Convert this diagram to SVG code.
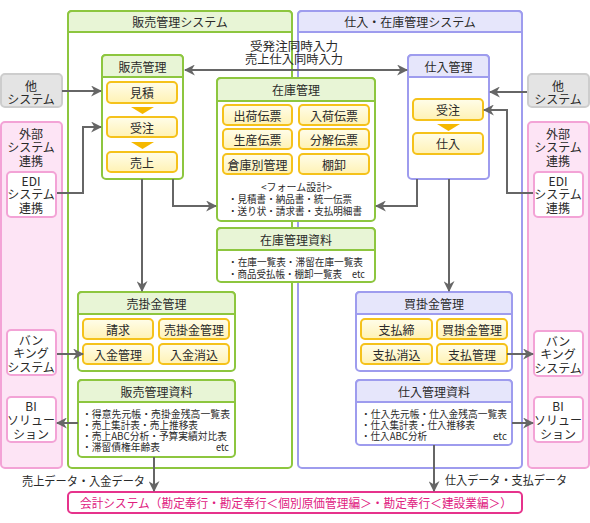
<svg xmlns="http://www.w3.org/2000/svg" width="590" height="523" viewBox="0 0 590 523">
<defs>
<linearGradient id="yg" x1="0" y1="0" x2="0" y2="1"><stop offset="0" stop-color="#fffdea"/><stop offset="1" stop-color="#fff2b4"/></linearGradient>
<marker id="ah" viewBox="0 0 10 10" refX="9" refY="5" markerWidth="11" markerHeight="11" markerUnits="userSpaceOnUse" orient="auto-start-reverse"><path d="M0,0 L10,5 L0,10 L3,5 Z" fill="#666"/></marker>
<style>
text{font-family:"Noto Sans CJK JP","Noto Sans CJK SC",sans-serif;fill:#2a2a2a;font-size:12px;dominant-baseline:central}
.c{text-anchor:middle}
.s{font-size:10px}
.s2{font-size:10px}
.gf{fill:#fff;stroke:#8dc63f;stroke-width:2}
.gh{fill:#e8f5d6;stroke:#8dc63f;stroke-width:2}
.bf{fill:#fff;stroke:#9e9cee;stroke-width:2}
.bh{fill:#e6e6fb;stroke:#9e9cee;stroke-width:2}
.it{fill:url(#yg);stroke:#f5c21b;stroke-width:2}
.tri{fill:#f5b800}
.pk{fill:#fde4f5;stroke:#f3a3d6;stroke-width:2}
.pw{fill:#fff;stroke:#f3a3d6;stroke-width:2}
.gy{fill:#e4e4e4;stroke:#cdcdcd;stroke-width:2}
.cn{fill:none;stroke:#666;stroke-width:2;marker-end:url(#ah)}
</style>
</defs>
<rect width="590" height="523" fill="#fff"/>

<g id="sales-system">
<rect class="gf" x="68" y="11" width="224" height="457" rx="4"/>
<path class="gh" d="M68,32 V15 Q68,11 72,11 H288 Q292,11 292,15 V32 Z"/>
<text class="c" x="180" y="21">販売管理システム</text>
</g>
<g id="purchase-system">
<rect class="bf" x="298" y="11" width="224" height="457" rx="4"/>
<path class="bh" d="M298,32 V15 Q298,11 302,11 H518 Q522,11 522,15 V32 Z"/>
<text class="c" x="410" y="21">仕入・在庫管理システム</text>
</g>

<g id="other-left">
<rect class="gy" x="1" y="74" width="61" height="33" rx="4"/>
<text class="c"><tspan x="31" y="85">他</tspan><tspan x="31" y="98">システム</tspan></text>
</g>
<g id="other-right">
<rect class="gy" x="528" y="74" width="61" height="33" rx="4"/>
<text class="c"><tspan x="558" y="85">他</tspan><tspan x="558" y="98">システム</tspan></text>
</g>

<g id="ext-left">
<rect class="pk" x="1" y="122" width="61" height="346" rx="4"/>
<text class="c"><tspan x="31" y="133">外部</tspan><tspan x="31" y="146">システム</tspan><tspan x="31" y="160">連携</tspan></text>
</g>
<g id="edi-left">
<rect class="pw" x="7" y="172" width="49" height="45" rx="4"/>
<text class="c"><tspan x="31" y="180">EDI</tspan><tspan x="31" y="193">システム</tspan><tspan x="31" y="207">連携</tspan></text>
</g>
<g id="bank-left">
<rect class="pw" x="7" y="330" width="49" height="45" rx="4"/>
<text class="c"><tspan x="31" y="339">バン</tspan><tspan x="31" y="352">キング</tspan><tspan x="31" y="366">システム</tspan></text>
</g>
<g id="bi-left">
<rect class="pw" x="7" y="397" width="49" height="45" rx="4"/>
<text class="c"><tspan x="31" y="405">BI</tspan><tspan x="31" y="419">ソリュー</tspan><tspan x="31" y="433">ション</tspan></text>
</g>

<g id="ext-right">
<rect class="pk" x="528" y="122" width="61" height="346" rx="4"/>
<text class="c"><tspan x="558" y="133">外部</tspan><tspan x="558" y="146">システム</tspan><tspan x="558" y="160">連携</tspan></text>
</g>
<g id="edi-right">
<rect class="pw" x="534" y="172" width="49" height="45" rx="4"/>
<text class="c"><tspan x="558" y="180">EDI</tspan><tspan x="558" y="193">システム</tspan><tspan x="558" y="207">連携</tspan></text>
</g>
<g id="bank-right">
<rect class="pw" x="534" y="331" width="49" height="45" rx="4"/>
<text class="c"><tspan x="558" y="340">バン</tspan><tspan x="558" y="353">キング</tspan><tspan x="558" y="367">システム</tspan></text>
</g>
<g id="bi-right">
<rect class="pw" x="534" y="397" width="49" height="45" rx="4"/>
<text class="c"><tspan x="558" y="405">BI</tspan><tspan x="558" y="419">ソリュー</tspan><tspan x="558" y="433">ション</tspan></text>
</g>

<g id="sales-mgmt">
<rect class="gf" x="102" y="55" width="81" height="124" rx="4"/>
<path class="gh" d="M102,77 V59 Q102,55 106,55 H179 Q183,55 183,59 V77 Z"/>
<text class="c" x="142.5" y="66">販売管理</text>
<rect class="it" x="107" y="82" width="70" height="21" rx="4"/>
<text class="c" x="142" y="92.5">見積</text>
<path class="tri" d="M131,107 H154 L142.5,114 Z"/>
<rect class="it" x="107" y="117" width="70" height="20" rx="4"/>
<text class="c" x="142" y="127">受注</text>
<path class="tri" d="M131,142 H154 L142.5,149 Z"/>
<rect class="it" x="107" y="152" width="70" height="20" rx="4"/>
<text class="c" x="142" y="162">売上</text>
</g>

<g id="purchase-mgmt">
<rect class="bf" x="408" y="55" width="81" height="124" rx="4"/>
<path class="bh" d="M408,77 V59 Q408,55 412,55 H485 Q489,55 489,59 V77 Z"/>
<text class="c" x="448.5" y="66">仕入管理</text>
<rect class="it" x="413" y="99" width="70" height="21" rx="4"/>
<text class="c" x="448" y="109.5">受注</text>
<path class="tri" d="M437,124 H460 L448.5,131 Z"/>
<rect class="it" x="413" y="133" width="70" height="21" rx="4"/>
<text class="c" x="448" y="143.5">仕入</text>
</g>

<g id="inventory-mgmt">
<rect class="gf" x="217" y="78" width="158" height="143" rx="4"/>
<path class="gh" d="M217,101 V82 Q217,78 221,78 H371 Q375,78 375,82 V101 Z"/>
<text class="c" x="296" y="89.5">在庫管理</text>
<rect class="it" x="223" y="105" width="69" height="20" rx="4"/>
<text class="c" x="257.5" y="115">出荷伝票</text>
<rect class="it" x="299" y="105" width="70" height="20" rx="4"/>
<text class="c" x="334" y="115">入荷伝票</text>
<rect class="it" x="223" y="129" width="69" height="20" rx="4"/>
<text class="c" x="257.5" y="139">生産伝票</text>
<rect class="it" x="299" y="129" width="70" height="20" rx="4"/>
<text class="c" x="334" y="139">分解伝票</text>
<rect class="it" x="223" y="154" width="69" height="20" rx="4"/>
<text class="c" x="257.5" y="164">倉庫別管理</text>
<rect class="it" x="299" y="154" width="70" height="20" rx="4"/>
<text class="c" x="334" y="164">棚卸</text>
<text class="s"><tspan x="261" y="186" textLength="71" lengthAdjust="spacingAndGlyphs">&lt;フォーム設計&gt;</tspan><tspan x="228" y="198" textLength="124" lengthAdjust="spacingAndGlyphs">・見積書・納品書・統一伝票</tspan><tspan x="228" y="210" textLength="134" lengthAdjust="spacingAndGlyphs">・送り状・請求書・支払明細書</tspan></text>
</g>

<g id="inventory-docs">
<rect class="gf" x="217" y="228" width="158" height="54" rx="4"/>
<path class="gh" d="M217,250 V232 Q217,228 221,228 H371 Q375,228 375,232 V250 Z"/>
<text class="c" x="296" y="239.5">在庫管理資料</text>
<text class="s"><tspan x="228" y="261" textLength="135" lengthAdjust="spacingAndGlyphs">・在庫一覧表・滞留在庫一覧表</tspan><tspan x="228" y="273" textLength="114" lengthAdjust="spacingAndGlyphs">・商品受払帳・棚卸一覧表</tspan><tspan x="352" y="273" textLength="13" lengthAdjust="spacingAndGlyphs">etc</tspan></text>
</g>

<g id="receivables">
<rect class="gf" x="78" y="292" width="157" height="79" rx="4"/>
<path class="gh" d="M78,314 V296 Q78,292 82,292 H231 Q235,292 235,296 V314 Z"/>
<text class="c" x="156.5" y="303">売掛金管理</text>
<rect class="it" x="83" y="319" width="70" height="20" rx="4"/>
<text class="c" x="118" y="329">請求</text>
<rect class="it" x="159" y="319" width="70" height="20" rx="4"/>
<text class="c" x="194" y="329">売掛金管理</text>
<rect class="it" x="83" y="344" width="70" height="20" rx="4"/>
<text class="c" x="118" y="354">入金管理</text>
<rect class="it" x="159" y="344" width="70" height="20" rx="4"/>
<text class="c" x="194" y="354">入金消込</text>
</g>

<g id="payables">
<rect class="bf" x="356" y="292" width="156" height="79" rx="4"/>
<path class="bh" d="M356,314 V296 Q356,292 360,292 H508 Q512,292 512,296 V314 Z"/>
<text class="c" x="434" y="303">買掛金管理</text>
<rect class="it" x="361" y="319" width="71" height="20" rx="4"/>
<text class="c" x="396.5" y="329">支払締</text>
<rect class="it" x="437" y="319" width="70" height="20" rx="4"/>
<text class="c" x="472" y="329">買掛金管理</text>
<rect class="it" x="361" y="344" width="71" height="20" rx="4"/>
<text class="c" x="396.5" y="354">支払消込</text>
<rect class="it" x="437" y="344" width="70" height="20" rx="4"/>
<text class="c" x="472" y="354">支払管理</text>
</g>

<g id="sales-docs">
<rect class="gf" x="78" y="380" width="157" height="77" rx="4"/>
<path class="gh" d="M78,402 V384 Q78,380 82,380 H231 Q235,380 235,384 V402 Z"/>
<text class="c" x="156.5" y="391.5">販売管理資料</text>
<text class="s2"><tspan x="82" y="413" textLength="148" lengthAdjust="spacingAndGlyphs">・得意先元帳・売掛金残高一覧表</tspan><tspan x="82" y="424" textLength="116" lengthAdjust="spacingAndGlyphs">・売上集計表・売上推移表</tspan><tspan x="82" y="435" textLength="145" lengthAdjust="spacingAndGlyphs">・売上ABC分析・予算実績対比表</tspan><tspan x="82" y="446" textLength="78" lengthAdjust="spacingAndGlyphs">・滞留債権年齢表</tspan><tspan x="216" y="446" textLength="13" lengthAdjust="spacingAndGlyphs">etc</tspan></text>
</g>

<g id="purchase-docs">
<rect class="bf" x="356" y="380" width="156" height="65" rx="4"/>
<path class="bh" d="M356,402 V384 Q356,380 360,380 H508 Q512,380 512,384 V402 Z"/>
<text class="c" x="434" y="391.5">仕入管理資料</text>
<text class="s2"><tspan x="361" y="413" textLength="146" lengthAdjust="spacingAndGlyphs">・仕入先元帳・仕入金残高一覧表</tspan><tspan x="361" y="424" textLength="114" lengthAdjust="spacingAndGlyphs">・仕入集計表・仕入推移表</tspan><tspan x="361" y="435" textLength="66" lengthAdjust="spacingAndGlyphs">・仕入ABC分析</tspan><tspan x="493" y="435" textLength="14" lengthAdjust="spacingAndGlyphs">etc</tspan></text>
</g>

<g id="accounting">
<rect x="68" y="492" width="454" height="21" rx="4" fill="#fff" stroke="#e6338c" stroke-width="2"/>
<text class="c" x="296" y="502.5" style="fill:#e0207f" textLength="432" lengthAdjust="spacingAndGlyphs">会計システム（勘定奉行・勘定奉行＜個別原価管理編＞・勘定奉行＜建設業編＞）</text>
</g>

<g id="connectors">
<path class="cn" d="M185,70 H407" marker-start="url(#ah)"/>
<path class="cn" d="M62,91 H101"/>
<path class="cn" d="M527,92 H490"/>
<path class="cn" d="M57,193 H83 V127 H101"/>
<path class="cn" d="M533,193 H507 V110 H484"/>
<path class="cn" d="M173,179 V206 H216"/>
<path class="cn" d="M417,179 V206 H376"/>
<path class="cn" d="M142,179 V291"/>
<path class="cn" d="M449,179 V291"/>
<path class="cn" d="M57,354 H83"/>
<path class="cn" d="M507,354 H533"/>
<path class="cn" d="M78,423 H57"/>
<path class="cn" d="M512,423 H533"/>
<path class="cn" d="M154,457 V491"/>
<path class="cn" d="M434,445 V491"/>
<text><tspan x="250" y="45" textLength="88" lengthAdjust="spacingAndGlyphs">受発注同時入力</tspan><tspan x="245" y="58" textLength="98" lengthAdjust="spacingAndGlyphs">売上仕入同時入力</tspan></text>
<text x="22" y="480" textLength="123" lengthAdjust="spacingAndGlyphs">売上データ・入金データ</text>
<text x="445" y="479" textLength="122" lengthAdjust="spacingAndGlyphs">仕入データ・支払データ</text>
</g>
</svg>
